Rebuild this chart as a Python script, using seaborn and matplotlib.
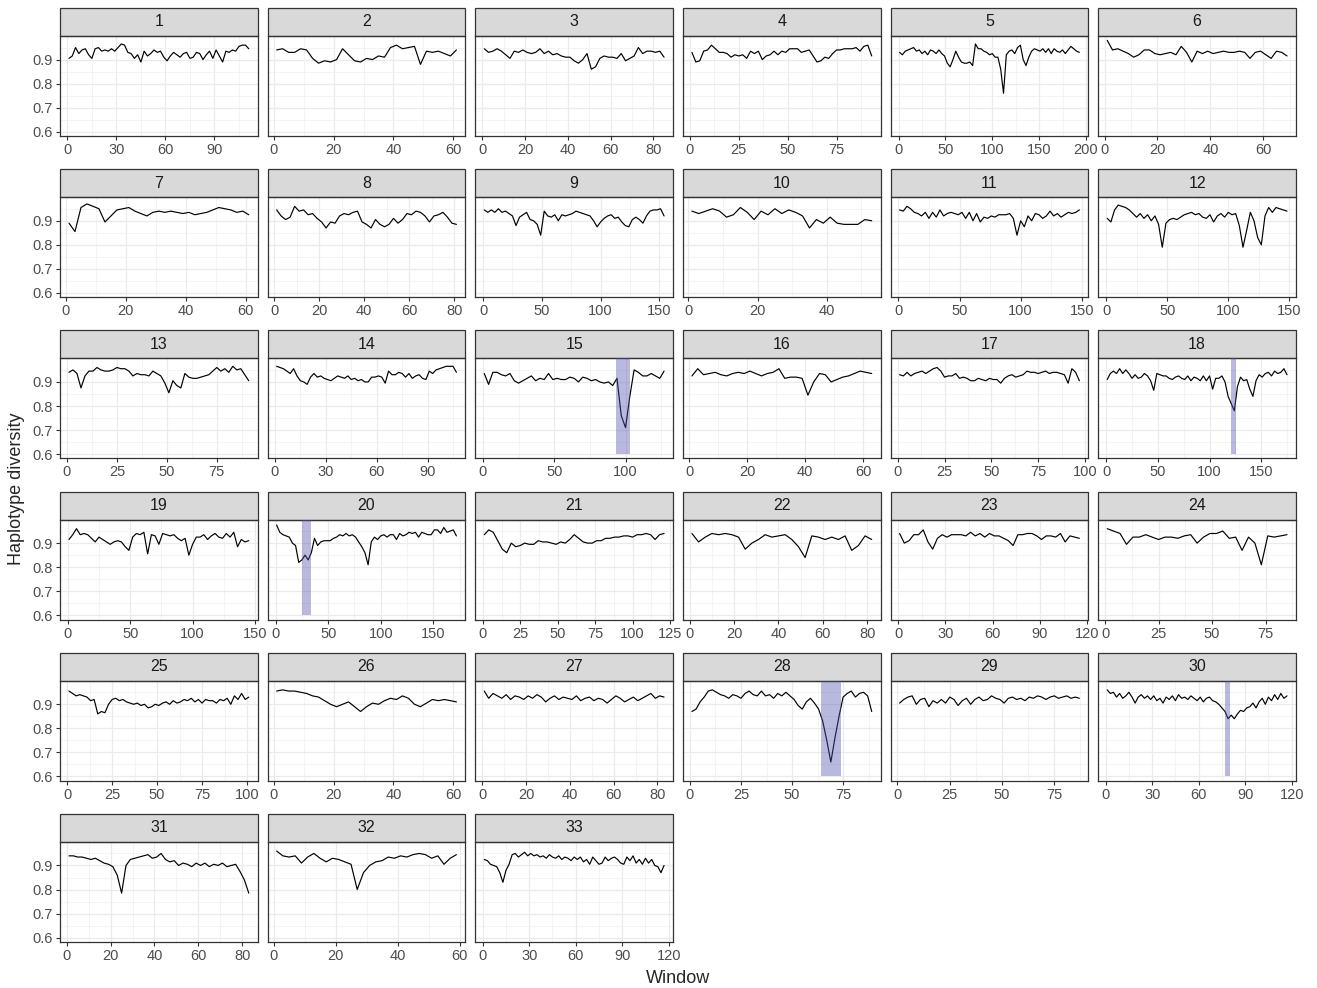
import numpy as np
import pandas as pd
import matplotlib
matplotlib.use("Agg")
import matplotlib.pyplot as plt
from matplotlib.patches import Rectangle
from matplotlib.ticker import FixedLocator, MultipleLocator
import seaborn as sns

# Haplotype diversity per sliding window, one list per chromosome
chr01 = [.905, .915, .95, .925, .94, .945, .92, .905, .945, .95, .935, .94, .935, .945, .935, .95, .965, .96, .93, .925,
         .905, .92, .89, .935, .915, .925, .94, .93, .935, .91, .895, .915, .93, .92, .91, .925, .93, .905, .91, .93,
         .925, .9, .92, .935, .905, .94, .915, .89, .935, .93, .94, .935, .955, .96, .96, .945]
chr02 = [.94, .945, .93, .93, .945, .94, .905, .885, .895, .89, .9, .945, .92, .895, .89, .905, .9, .915, .91, .95,
         .96, .945, .95, .955, .88, .935, .93, .935, .925, .915, .94]
chr03 = [.945, .93, .935, .945, .935, .92, .905, .935, .93, .94, .93, .925, .93, .945, .925, .935, .92, .925, .915, .91,
         .91, .895, .885, .9, .925, .86, .87, .905, .915, .91, .91, .905, .925, .895, .905, .915, .95, .925, .935, .935,
         .93, .935, .91]
chr04 = [.93, .89, .895, .935, .94, .96, .945, .93, .93, .925, .91, .92, .915, .92, .905, .935, .925, .935, .9, .915,
         .92, .935, .92, .935, .93, .945, .945, .945, .93, .935, .94, .915, .89, .895, .91, .905, .925, .94, .94, .945,
         .945, .945, .95, .935, .955, .96, .915]
chr05 = [.93, .92, .935, .94, .945, .95, .935, .94, .925, .935, .92, .94, .935, .925, .94, .925, .915, .885, .87, .9,
         .935, .91, .89, .885, .885, .89, .875, .965, .945, .945, .935, .93, .92, .925, .91, .91, .86, .76, .92, .935,
         .94, .925, .95, .96, .9, .875, .91, .935, .945, .94, .935, .945, .93, .945, .925, .945, .935, .93, .94, .925,
         .94, .955, .945, .935, .93]
chr06 = [.98, .94, .945, .935, .925, .91, .92, .94, .94, .925, .92, .925, .93, .92, .955, .93, .89, .935, .925, .935,
         .925, .93, .935, .93, .93, .935, .93, .905, .93, .935, .92, .905, .935, .93, .915]
chr07 = [.89, .855, .955, .97, .96, .95, .895, .92, .945, .95, .955, .94, .93, .92, .935, .94, .935, .94, .935, .93,
         .935, .925, .93, .935, .945, .955, .95, .945, .935, .94, .925]
chr08 = [.945, .92, .905, .915, .96, .94, .945, .925, .93, .91, .895, .87, .895, .89, .92, .93, .925, .935, .94, .895,
         .885, .87, .905, .885, .875, .885, .91, .89, .905, .93, .925, .94, .935, .92, .895, .92, .925, .935, .915, .89,
         .885]
chr09 = [.945, .935, .945, .935, .95, .935, .94, .93, .92, .88, .915, .925, .935, .905, .9, .885, .84, .94, .92, .915,
         .925, .9, .925, .92, .925, .93, .94, .935, .93, .925, .92, .9, .875, .895, .91, .92, .925, .91, .915, .895,
         .88, .875, .905, .915, .905, .89, .92, .94, .945, .945, .95, .92]
chr10 = [.94, .93, .94, .95, .94, .915, .925, .955, .935, .905, .94, .925, .95, .93, .945, .935, .92, .87, .905, .89,
         .915, .89, .885, .885, .885, .905, .9]
chr11 = [.945, .94, .96, .95, .935, .93, .92, .935, .91, .935, .915, .945, .92, .93, .935, .93, .925, .935, .91, .935,
         .9, .93, .895, .915, .91, .92, .915, .925, .925, .925, .93, .91, .84, .9, .875, .92, .9, .93, .925, .91,
         .92, .94, .92, .93, .915, .925, .935, .93, .935, .945]
chr12 = [.91, .895, .945, .965, .96, .955, .945, .93, .915, .93, .91, .925, .9, .92, .885, .79, .89, .905, .91, .905,
         .915, .925, .93, .935, .925, .93, .915, .91, .925, .895, .92, .93, .915, .935, .925, .93, .88, .79, .86, .935,
         .9, .83, .8, .92, .955, .935, .955, .95, .945, .94]
chr13 = [.94, .95, .935, .875, .925, .945, .945, .96, .95, .945, .945, .95, .96, .955, .955, .945, .925, .935, .93, .93,
         .925, .945, .935, .925, .895, .855, .905, .885, .875, .935, .92, .915, .915, .92, .925, .93, .945, .96, .945, .955,
         .94, .965, .95, .955, .93, .905]
chr14 = [.965, .96, .955, .945, .935, .955, .925, .905, .9, .89, .92, .935, .92, .925, .915, .91, .905, .915, .925, .92,
         .915, .925, .91, .915, .905, .91, .9, .9, .92, .92, .925, .92, .895, .945, .93, .93, .94, .935, .92, .935,
         .915, .925, .93, .915, .91, .945, .935, .95, .955, .96, .965, .965, .965, .94]
chr15 = [.935, .89, .94, .94, .93, .925, .935, .905, .895, .905, .915, .925, .905, .915, .91, .935, .91, .915, .91, .91,
         .92, .915, .9, .92, .915, .905, .91, .9, .895, .9, .885, .915, .76, .71, .84, .95, .94, .925, .925, .935,
         .925, .915, .945]
chr16 = [.925, .955, .93, .935, .94, .93, .925, .935, .94, .935, .945, .935, .925, .935, .94, .955, .915, .92, .92, .915,
         .845, .9, .935, .93, .9, .91, .92, .925, .935, .945, .94, .935]
chr17 = [.93, .925, .94, .925, .935, .94, .945, .935, .945, .955, .96, .945, .92, .925, .925, .935, .915, .92, .915, .905,
         .905, .915, .91, .905, .915, .91, .91, .895, .915, .925, .93, .92, .925, .93, .945, .94, .94, .935, .94, .945,
         .935, .94, .94, .935, .93, .895, .955, .94, .905]
chr18 = [.91, .935, .945, .935, .955, .935, .95, .935, .915, .93, .915, .92, .935, .925, .905, .865, .935, .93, .925, .925,
         .915, .91, .92, .925, .915, .91, .925, .905, .92, .915, .905, .925, .905, .925, .87, .915, .915, .925, .9, .84,
         .81, .78, .88, .92, .905, .91, .87, .84, .905, .93, .92, .935, .94, .925, .945, .935, .94, .955, .93]
chr19 = [.915, .935, .96, .935, .94, .935, .92, .905, .925, .915, .905, .895, .905, .91, .905, .885, .87, .925, .94, .935,
         .945, .855, .935, .93, .895, .94, .935, .93, .935, .92, .91, .92, .85, .895, .925, .925, .935, .915, .93, .94,
         .925, .92, .94, .925, .945, .885, .915, .905, .91]
chr20 = [.975, .945, .935, .93, .925, .9, .89, .82, .83, .85, .83, .86, .92, .89, .905, .91, .91, .91, .92, .925,
         .935, .93, .94, .93, .935, .925, .905, .885, .86, .81, .905, .925, .915, .93, .935, .925, .935, .935, .915, .94,
         .93, .935, .945, .94, .945, .925, .945, .94, .935, .935, .955, .955, .94, .965, .945, .95, .955, .93]
chr21 = [.935, .955, .945, .91, .875, .86, .9, .885, .89, .9, .895, .895, .91, .905, .905, .9, .895, .905, .9, .915,
         .935, .92, .905, .9, .9, .91, .91, .92, .92, .925, .925, .93, .93, .925, .935, .935, .94, .935, .915, .935,
         .94]
chr22 = [.94, .905, .925, .94, .935, .94, .935, .925, .875, .9, .915, .935, .925, .93, .935, .915, .885, .84, .93, .925,
         .915, .925, .915, .93, .87, .89, .93, .915]
chr23 = [.94, .9, .91, .935, .935, .955, .905, .875, .92, .935, .925, .935, .935, .935, .93, .945, .93, .94, .925, .94,
         .93, .93, .92, .91, .89, .935, .935, .94, .94, .93, .915, .93, .93, .925, .94, .905, .93, .925, .92]
chr24 = [.96, .95, .94, .895, .925, .925, .935, .925, .915, .925, .925, .92, .93, .935, .9, .925, .94, .94, .95, .92,
         .925, .87, .925, .9, .81, .93, .925, .93, .935]
chr25 = [.955, .945, .935, .94, .935, .93, .915, .92, .86, .87, .865, .9, .92, .925, .915, .92, .91, .905, .9, .905,
         .895, .9, .885, .89, .9, .895, .905, .91, .9, .915, .905, .91, .92, .915, .925, .91, .92, .905, .92, .915,
         .915, .905, .92, .915, .925, .9, .935, .92, .945, .92, .93]
chr26 = [.955, .96, .955, .955, .95, .945, .935, .93, .915, .9, .89, .9, .91, .89, .87, .89, .905, .9, .915, .925,
         .92, .935, .925, .9, .89, .905, .92, .915, .92, .915, .91]
chr27 = [.955, .925, .945, .935, .925, .94, .92, .935, .93, .92, .935, .925, .94, .93, .91, .925, .935, .92, .93, .925,
         .92, .935, .915, .925, .93, .915, .925, .92, .905, .92, .935, .925, .91, .92, .93, .915, .925, .935, .945, .925,
         .935, .93]
chr28 = [.87, .88, .91, .93, .955, .96, .95, .94, .935, .925, .94, .935, .925, .945, .955, .94, .935, .955, .935, .94,
         .925, .945, .935, .95, .935, .92, .895, .88, .91, .925, .905, .88, .83, .75, .66, .76, .85, .93, .945, .955,
         .93, .945, .95, .935, .87]
chr29 = [.905, .92, .93, .935, .9, .92, .925, .89, .915, .905, .92, .905, .93, .92, .895, .915, .925, .9, .92, .93,
         .915, .92, .935, .925, .92, .905, .925, .93, .92, .925, .915, .93, .925, .935, .93, .92, .93, .935, .925, .93,
         .935, .925, .93, .925]
chr30 = [.96, .945, .95, .93, .945, .925, .935, .95, .93, .905, .93, .94, .925, .935, .92, .935, .915, .925, .905, .93,
         .92, .935, .915, .94, .925, .93, .92, .935, .925, .915, .93, .91, .925, .93, .915, .91, .9, .885, .87, .84,
         .855, .84, .86, .875, .87, .885, .89, .905, .885, .91, .925, .9, .93, .915, .94, .92, .945, .925, .935]
chr31 = [.94, .94, .935, .935, .93, .925, .93, .92, .91, .905, .895, .86, .785, .9, .925, .93, .935, .94, .945, .93,
         .935, .95, .925, .915, .92, .9, .91, .905, .895, .91, .9, .91, .895, .905, .9, .91, .895, .9, .905, .875,
         .84, .785]
chr32 = [.96, .94, .935, .94, .91, .935, .95, .93, .915, .93, .925, .915, .905, .8, .87, .9, .915, .92, .935, .93,
         .94, .935, .945, .95, .945, .93, .94, .905, .93, .945]
chr33 = [.925, .92, .905, .9, .895, .87, .83, .88, .905, .945, .95, .935, .945, .955, .94, .95, .94, .945, .935, .94,
         .93, .945, .935, .93, .94, .925, .935, .93, .92, .935, .925, .935, .915, .925, .905, .935, .92, .905, .91, .935,
         .92, .93, .935, .925, .91, .905, .935, .92, .94, .91, .925, .905, .93, .91, .925, .9, .895, .87, .9]

diversity = [chr01, chr02, chr03, chr04, chr05, chr06, chr07, chr08, chr09, chr10, chr11,
             chr12, chr13, chr14, chr15, chr16, chr17, chr18, chr19, chr20, chr21, chr22,
             chr23, chr24, chr25, chr26, chr27, chr28, chr29, chr30, chr31, chr32, chr33]
chromosomes = list(range(1, 34))
# spacing (in windows) between consecutive values of each list
window_step = [2, 2, 2, 2, 3, 2, 2, 2, 3, 2, 3, 3, 2, 2, 3, 2, 2, 3, 3, 3, 3, 3, 3, 3,
               2, 2, 2, 2, 2, 2, 2, 2, 2]

x_breaks = [[0, 30, 60, 90], [0, 20, 40, 60], [0, 20, 40, 60, 80], [0, 25, 50, 75],
            [0, 50, 100, 150, 200], [0, 20, 40, 60], [0, 20, 40, 60], [0, 20, 40, 60, 80],
            [0, 50, 100, 150], [0, 20, 40], [0, 50, 100, 150], [0, 50, 100, 150],
            [0, 25, 50, 75], [0, 30, 60, 90], [0, 50, 100], [0, 20, 40, 60],
            [0, 25, 50, 75, 100], [0, 50, 100, 150], [0, 50, 100, 150], [0, 50, 100, 150],
            [0, 25, 50, 75, 100, 125], [0, 20, 40, 60, 80], [0, 30, 60, 90, 120], [0, 25, 50, 75],
            [0, 25, 50, 75, 100], [0, 20, 40, 60], [0, 20, 40, 60, 80], [0, 25, 50, 75],
            [0, 25, 50, 75], [0, 30, 60, 90, 120], [0, 20, 40, 60, 80], [0, 20, 40, 60],
            [0, 30, 60, 90, 120]]
y_breaks = [0.6, 0.7, 0.8, 0.9]

# highlighted candidate regions (window ranges)
region_chrom = [15, 18, 20, 28, 30]
region_start = [93, 121, 25, 64, 77]
region_end = [103, 126, 34, 74, 80]
region_floor = 0.6

frames = []
for chrom, vals, step in zip(chromosomes, diversity, window_step):
    frames.append(pd.DataFrame({"chrom": chrom,
                                "window": 1 + step * np.arange(len(vals)),
                                "hd": vals}))
df = pd.concat(frames, ignore_index=True)

sns.set_theme(style="white")
plt.rcParams["font.family"] = ["Liberation Sans", "DejaVu Sans"]

g = sns.relplot(data=df, x="window", y="hd", col="chrom", col_wrap=6, kind="line",
                color="black", linewidth=0.85, estimator=None, sort=True,
                facet_kws=dict(sharex=False, sharey=True), height=2, aspect=2)
fig = g.figure
fig.set_size_inches(13.17, 9.88)
fig.subplots_adjust(left=60 / 1317, right=1296 / 1317, top=1 - 36 / 988,
                    bottom=1 - 942 / 988, wspace=0.05, hspace=0.61)
g.set_titles(template="")
g.set_axis_labels("", "")

y_lo, y_hi = 0.582, 0.998
for i, chrom in enumerate(chromosomes):
    ax = g.axes_dict[chrom]
    last = df.loc[df.chrom == chrom, "window"].max()
    pad = 0.05 * (last - 1)
    ax.set_xlim(1 - pad, last + pad)
    ax.set_ylim(y_lo, y_hi)

    br = x_breaks[i]
    ax.xaxis.set_major_locator(FixedLocator(br))
    ax.xaxis.set_minor_locator(MultipleLocator((br[1] - br[0]) / 2))
    ax.yaxis.set_major_locator(FixedLocator(y_breaks))
    ax.yaxis.set_minor_locator(FixedLocator([0.65, 0.75, 0.85, 0.95]))
    ax.grid(which="major", color="#EBEBEB", linewidth=0.9)
    ax.grid(which="minor", color="#F0F0F0", linewidth=0.5)
    ax.set_axisbelow(True)

    for sp in ax.spines.values():
        sp.set_visible(True)
        sp.set_color("#333333")
        sp.set_linewidth(0.9)

    first_col = (i % 6 == 0)
    ax.tick_params(axis="x", which="major", length=3, width=0.8, color="#333333",
                   labelsize=10.5, labelcolor="#4D4D4D", pad=2, labelbottom=True, bottom=True)
    ax.tick_params(axis="y", which="major", length=3 if first_col else 0, width=0.8,
                   color="#333333", labelsize=10.5, labelcolor="#4D4D4D", pad=2,
                   labelleft=first_col, left=first_col)
    ax.tick_params(which="minor", length=0)

    # facet strip
    ax.add_patch(Rectangle((0, 1), 1, 0.28, transform=ax.transAxes, clip_on=False,
                           facecolor="#D9D9D9", edgecolor="#333333", linewidth=0.9))
    ax.text(0.5, 1.14, str(chrom), transform=ax.transAxes, ha="center", va="center",
            fontsize=11.5, color="#1A1A1A")

for chrom, x0, x1 in zip(region_chrom, region_start, region_end):
    ax = g.axes_dict[chrom]
    ax.fill_between([x0, x1], region_floor, y_hi, color="#5050B0", alpha=0.4,
                    linewidth=0, zorder=3)

fig.text(678 / 1317, 1 - 978 / 988, "Window", ha="center", va="center", fontsize=13)
fig.text(17 / 1317, 0.505, "Haplotype diversity", ha="center", va="center",
         rotation=90, fontsize=13)

fig.savefig("out.png", dpi=100)
